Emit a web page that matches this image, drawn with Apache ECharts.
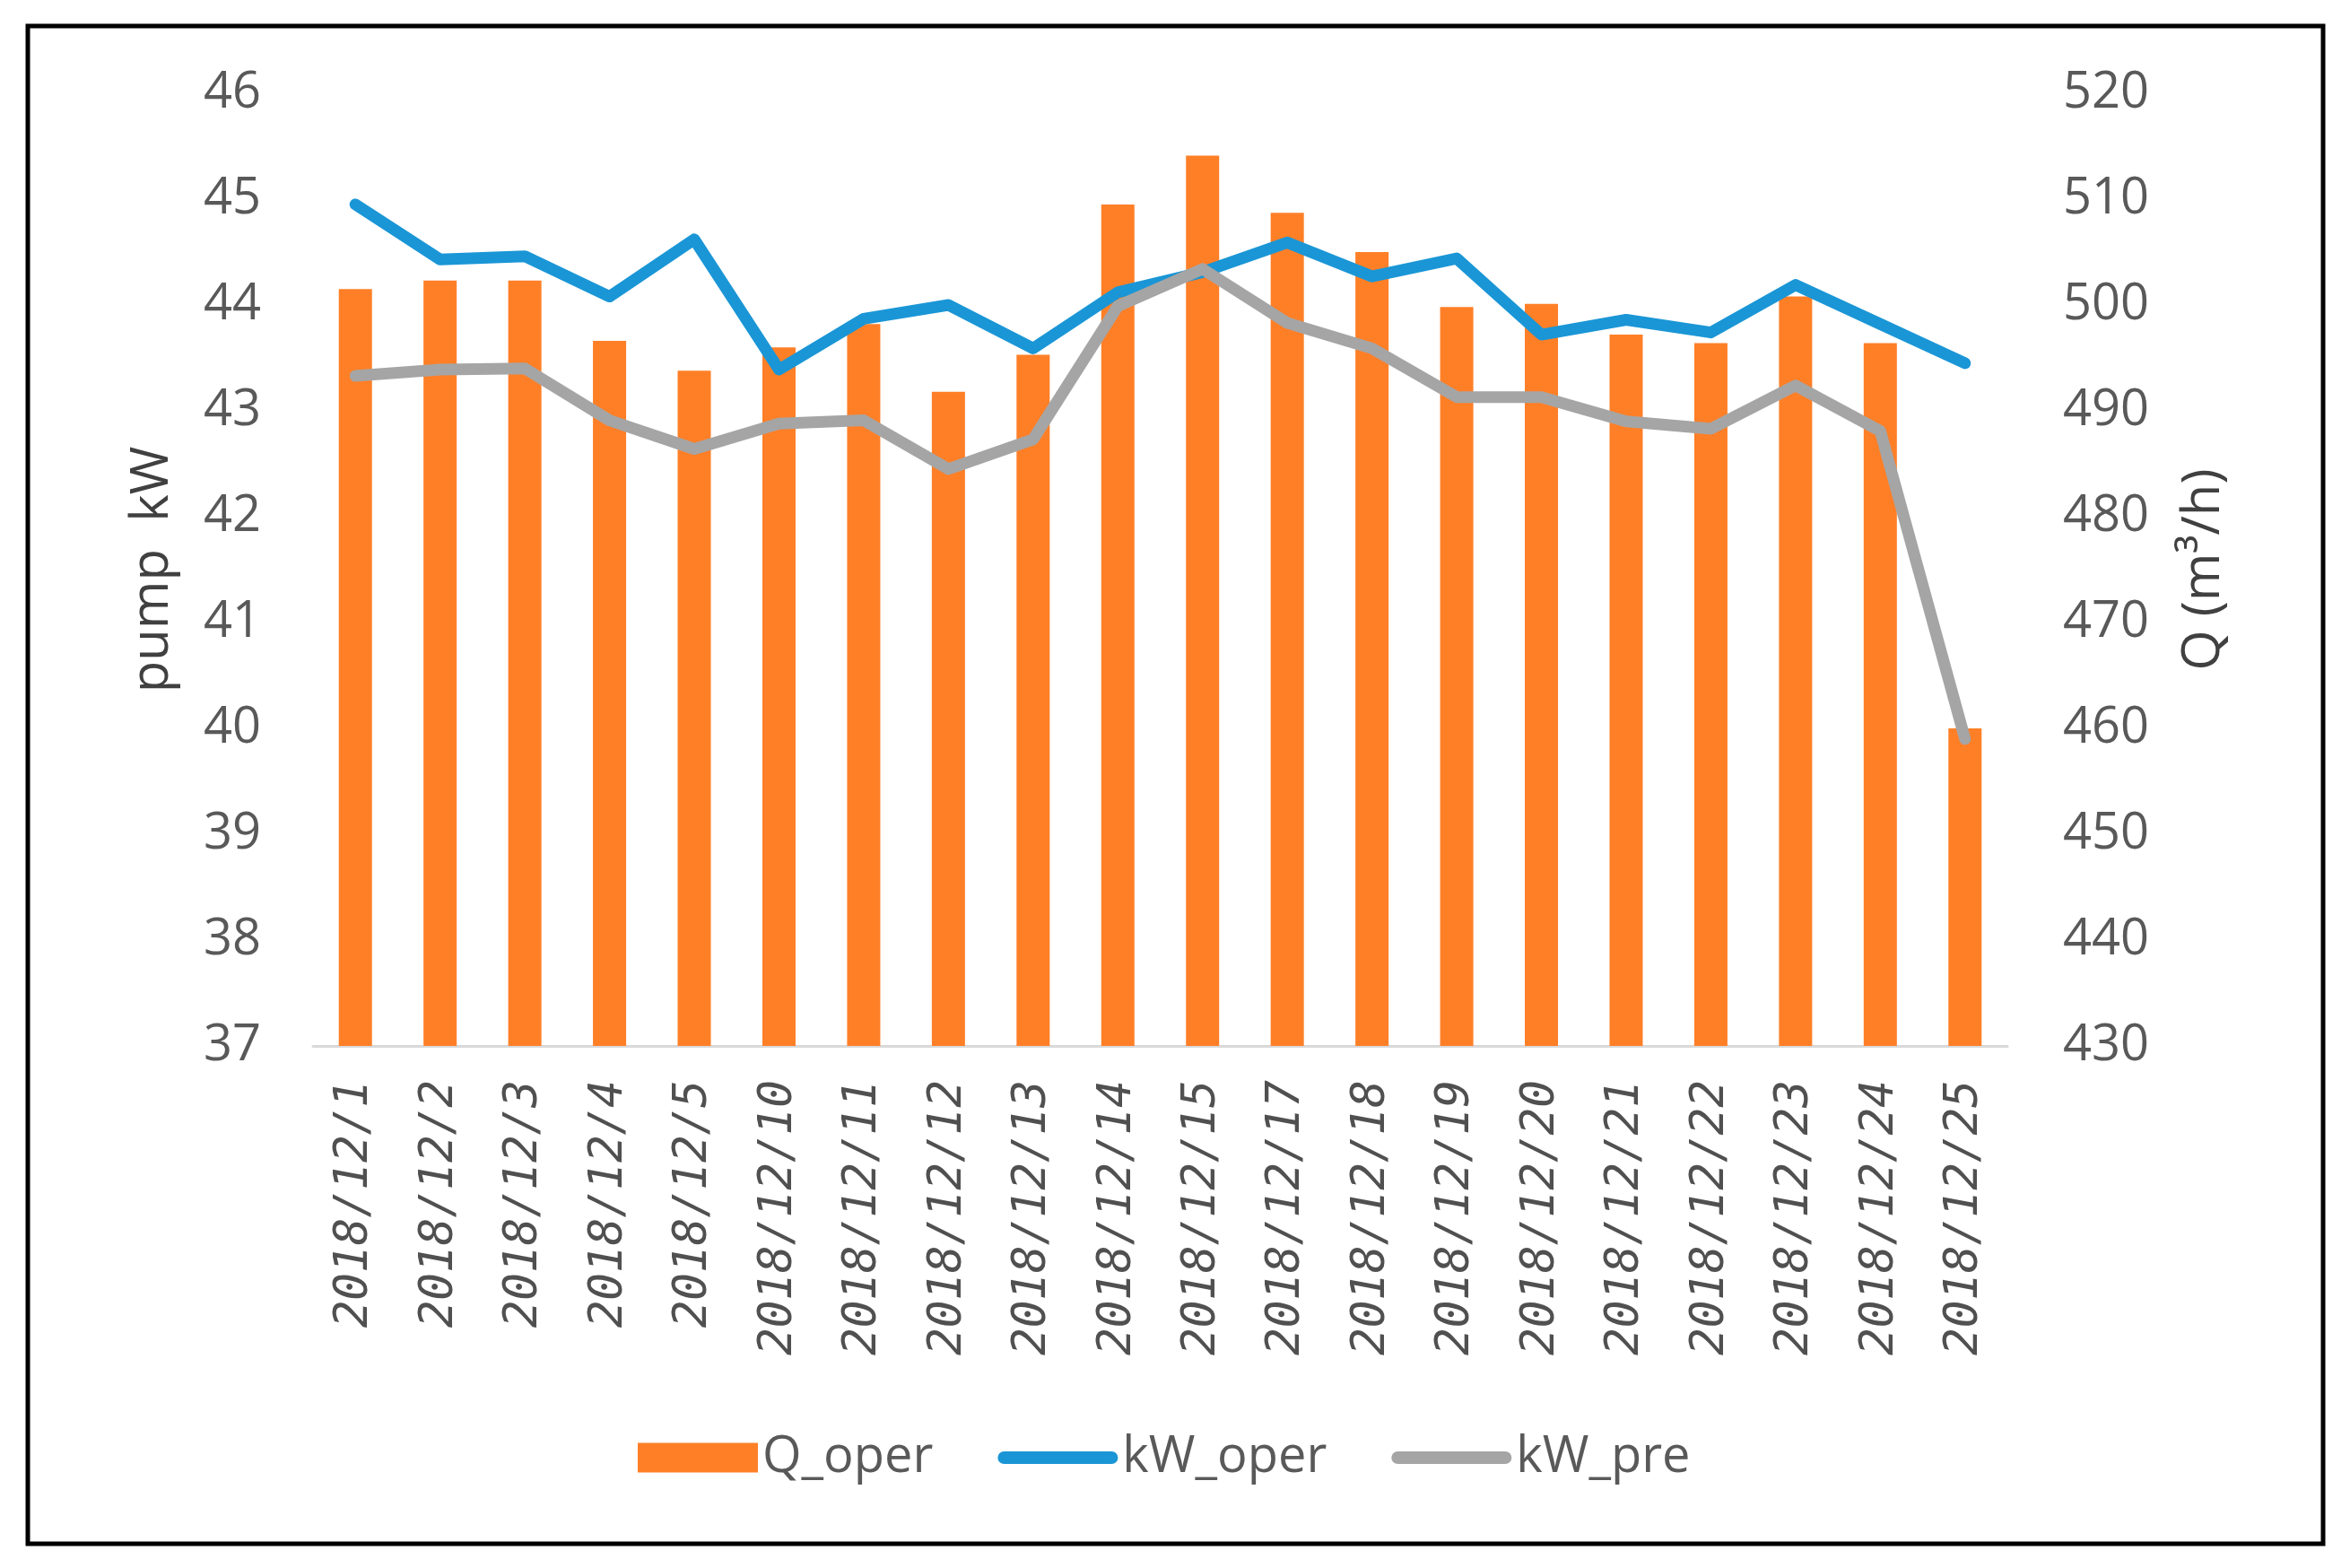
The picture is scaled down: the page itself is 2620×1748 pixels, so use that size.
<!DOCTYPE html>
<html>
<head>
<meta charset="utf-8">
<script src="https://cdn.jsdelivr.net/npm/echarts@6/dist/echarts.min.js"></script>
<style>
html,body{margin:0;padding:0;background:#fff;}
#chart{width:2620px;height:1748px;}
</style>
</head>
<body>
<div id="chart"></div>
<script>
const categories = ['2018/12/1','2018/12/2','2018/12/3','2018/12/4','2018/12/5','2018/12/10','2018/12/11','2018/12/12','2018/12/13','2018/12/14','2018/12/15','2018/12/17','2018/12/18','2018/12/19','2018/12/20','2018/12/21','2018/12/22','2018/12/23','2018/12/24','2018/12/25'];
const qOper = [501.5, 502.3, 502.3, 496.6, 493.8, 496.0, 498.2, 491.8, 495.3, 509.5, 514.1, 508.7, 505.0, 499.8, 500.1, 497.2, 496.4, 500.8, 496.4, 460.0];
const kwOper = [44.95, 44.43, 44.46, 44.08, 44.62, 43.39, 43.87, 44.00, 43.59, 44.12, 44.31, 44.59, 44.27, 44.44, 43.72, 43.86, 43.74, 44.19, 43.82, 43.45];
const kwPre = [43.33, 43.39, 43.40, 42.91, 42.64, 42.88, 42.91, 42.45, 42.73, 43.99, 44.34, 43.83, 43.59, 43.13, 43.13, 42.90, 42.83, 43.24, 42.81, 39.90];

const chart = echarts.init(document.getElementById('chart'), null, {renderer:'canvas'});
const sans = '"Open Sans", Lato, "Noto Sans", sans-serif';
const lineIcon = 'path://M7,0 L127,0 A7,7 0 0 1 127,14 L7,14 A7,7 0 0 1 7,0 Z';
chart.setOption({
  backgroundColor:'#ffffff',
  animation:false,
  graphic:[{type:'rect', shape:{x:31,y:29,width:2559,height:1692}, style:{fill:'none', stroke:'#000', lineWidth:5}, z:100}],
  grid:{left:349, top:104, width:1889, height:1062},
  legend:{
    left:706, top:1592,
    itemWidth:134, itemHeight:33, itemGap:72,
    textStyle:{fontFamily:sans, fontSize:56, color:'#595959'},
    data:[{name:'Q_oper', icon:'rect'},{name:'kW_oper', icon:lineIcon},{name:'kW_pre', icon:lineIcon}]
  },
  xAxis:{
    type:'category', data:categories,
    axisLine:{lineStyle:{color:'#d9d9d9', width:3}},
    axisTick:{show:false},
    axisLabel:{rotate:90, margin:38, fontFamily:'"DejaVu Sans Mono", monospace', fontStyle:'italic', fontSize:51, color:'#505050', interval:0}
  },
  yAxis:[{
    type:'value', min:37, max:46, interval:1,
    name:'pump  kW', nameLocation:'middle', nameGap:150, nameRotate:90,
    nameTextStyle:{fontFamily:sans, fontSize:58, color:'#404040'},
    axisLine:{show:false}, axisTick:{show:false}, splitLine:{show:false},
    axisLabel:{margin:58, fontFamily:sans, fontSize:56, color:'#595959'}
  },{
    type:'value', min:430, max:520, interval:10, position:'right',
    name:'Q (m³/h)', nameLocation:'middle', nameGap:190, nameRotate:90,
    nameTextStyle:{fontFamily:sans, fontSize:58, color:'#404040'},
    axisLine:{show:false}, axisTick:{show:false}, splitLine:{show:false},
    axisLabel:{margin:62, fontFamily:sans, fontSize:56, color:'#595959'}
  }],
  series:[{
    name:'Q_oper', type:'bar', yAxisIndex:1, data:qOper, barWidth:37,
    itemStyle:{color:'#ff7f27'}
  },{
    name:'kW_oper', type:'line', yAxisIndex:0, data:kwOper, symbol:'none',
    lineStyle:{color:'#1a96d6', width:13, cap:'round', join:'round'}, itemStyle:{color:'#1a96d6'}
  },{
    name:'kW_pre', type:'line', yAxisIndex:0, data:kwPre, symbol:'none',
    lineStyle:{color:'#a5a5a5', width:13, cap:'round', join:'round'}, itemStyle:{color:'#a5a5a5'}
  }]
});
</script>
</body>
</html>
